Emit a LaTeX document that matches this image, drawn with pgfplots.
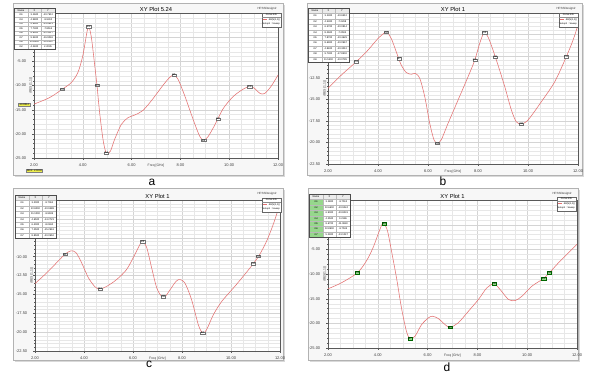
\documentclass[border=0pt]{standalone}
\usepackage{fontspec}
\setmainfont{Liberation Sans}
\usepackage{pgfplots}
\pgfplotsset{compat=1.18}
\definecolor{crv}{RGB}{228,112,112}
\definecolor{grd}{RGB}{212,212,212}
\definecolor{mgrn}{RGB}{150,215,140}
\definecolor{ylw}{RGB}{238,238,80}
\newcommand{\fs}[1]{\fontsize{#1}{#1}\selectfont}

\pgfplotsset{
 hfss/.style={
   scale only axis, anchor=south west,
   axis background/.style={fill=white},
   xmin=2, xmax=12, xtick={2,4,6,8,10,12},
   minor x tick num=3, minor y tick num=4,
   grid=both,
   major grid style={draw=grd, line width=0.3pt},
   minor grid style={draw=grd!55, line width=0.2pt},
   axis line style={draw=black!65, line width=0.4pt},
   tick style={draw=black!65, line width=0.3pt},
   major tick length=1.8pt, minor tick length=1pt,
   tick align=outside, tick pos=left,
   tick label style={font=\fs{4}, text=black!75},
   yticklabel style={xshift=-2.5pt},
   /pgf/number format/fixed,
   /pgf/number format/fixed zerofill,
   /pgf/number format/precision=2,
   /pgf/number format/assume math mode=true,
   scaled ticks=false,
   xlabel={Freq [GHz]}, ylabel={dB(S(1,1))},
   xlabel style={font=\fs{3.4}, text=black!75, at={(axis description cs:0.5,0)}, anchor=north, yshift=-5.5pt, inner sep=0pt},
   ylabel style={font=\fs{3.4}, text=black!75, at={(axis description cs:0,0.5)}, anchor=south, yshift=1.6pt, inner sep=0pt},
   every axis title shift=0pt,
   title style={font=\fs{5.8}, at={(axis description cs:0.5,1)}, anchor=south, yshift=1.2pt, inner sep=0.5pt},
 },
 hidelab/.style={yticklabel={\pgfmathparse{\tick>#1?1:0}\ifdim\pgfmathresult pt>0.5pt\relax\else\pgfmathprintnumber{\tick}\fi}},
 crvline/.style={draw=crv, line width=0.55pt, smooth, tension=0.5, mark=none},
 mk/.style={only marks, mark=*, mark size=0.01pt, mark options={draw=none,fill=none},
   nodes near coords, point meta=explicit symbolic,
   every node near coord/.style={font=\fs{2.6}, draw=black!55, fill=white, inner sep=0.35pt, line width=0.2pt, anchor=center, text=black}},
 mkg/.style={mk, every node near coord/.append style={fill=mgrn, draw=green!40!black}},
}

% marker table: x, ytop, nrows (incl header), row height, name fill, list
\newcommand{\mtab}[6]{%
 \begin{scope}[shift={(#1,#2)}]
  \fill[white] (0,0) rectangle (41,{-(#3)*(#4)});
  \fill[black!8] (0,0) rectangle (41,{-(#4)});
  \foreach \na/\xa/\ya [count=\i] in {#6} {
    \fill[#5] (0.2,{-\i*(#4)}) rectangle (13.8,{-(\i+1)*(#4)});
    \node[font=\fs{2.5}, inner sep=0] at (7,{-(\i+0.5)*(#4)}) {\na};
    \node[font=\fs{2.5}, inner sep=0] at (20.5,{-(\i+0.5)*(#4)}) {\xa};
    \node[font=\fs{2.5}, inner sep=0] at (34,{-(\i+0.5)*(#4)}) {\ya};
    \draw[gray!55, line width=0.2pt] (0,{-\i*(#4)}) -- (41,{-\i*(#4)});
  }
  \node[font=\fs{2.5}, inner sep=0] at (7,{-0.5*(#4)}) {Name};
  \node[font=\fs{2.5}, inner sep=0] at (20.5,{-0.5*(#4)}) {X};
  \node[font=\fs{2.5}, inner sep=0] at (34,{-0.5*(#4)}) {Y};
  \draw[gray!55, line width=0.2pt] (14,0) -- (14,{-(#3)*(#4)}) (27,0) -- (27,{-(#3)*(#4)});
  \draw[black!70, line width=0.4pt] (0,0) rectangle (41,{-(#3)*(#4)});
 \end{scope}}

% curve info box: right x, top y
\newcommand{\cinfo}[2]{%
 \begin{scope}[shift={(#1,#2)}]
  \draw[black!60, fill=white, line width=0.3pt] (-19,0) rectangle (0,-14);
  \node[font=\fs{2.4}, inner sep=0] at (-9.5,-2) {Curve Info};
  \draw[black!45, line width=0.2pt] (-19,-4) -- (0,-4);
  \draw[crv, line width=0.5pt] (-18.3,-6.7) -- (-14.5,-6.7);
  \node[font=\fs{2.4}, anchor=east, inner sep=0] at (-0.8,-6.7) {dB(S(1,1))};
  \node[font=\fs{2.4}, anchor=west, inner sep=0] at (-18.5,-10.6) {Setup1 : Sweep};
 \end{scope}}

\begin{document}
\begin{tikzpicture}[x=1bp,y=1bp]
\path[use as bounding box] (0,0) rectangle (591,373);
\foreach \fx/\fy/\fw in {13/198/270, 307/198/275, 13/13/270, 308/13/270}{
  \fill[black!15] (\fx+1.5,\fy-1.8) rectangle ++(\fw,172);
  \draw[black!30, fill=black!3, line width=0.3pt] (\fx,\fy) rectangle ++(\fw,172);
}

% ---------------- a ----------------
\begin{axis}[hfss, at={(34bp,215bp)}, width=244bp, height=145bp, ymin=-25, ymax=5,
  ytick={-25,-20,-15,-10,-5,0,5}, hidelab=-2.5, title={XY Plot 5.24}]
\addplot[crvline] table {
2.00 -13.85
2.64 -12.50
3.16 -10.76
3.53 -9.38
3.80 -7.29
4.00 -3.82
4.17 1.04
4.24 2.20
4.35 0.00
4.49 -5.90
4.58 -9.93
4.69 -15.60
4.83 -21.20
4.96 -23.96
5.13 -23.60
5.30 -21.20
5.58 -18.05
5.85 -16.67
6.13 -16.10
6.47 -15.14
6.88 -12.70
7.29 -9.93
7.56 -8.33
7.73 -7.85
7.90 -8.68
8.18 -12.15
8.52 -17.00
8.79 -20.50
8.95 -21.30
9.13 -20.60
9.40 -18.26
9.75 -14.80
10.16 -12.30
10.57 -10.76
10.84 -10.20
11.04 -10.60
11.25 -11.60
11.45 -11.67
11.73 -10.07
12.00 -7.85
};
\addplot[mk] table[meta=l] {
x y l
3.16 -10.76 m1
4.24 2.20 m2
4.58 -9.93 m3
4.96 -23.96 m4
7.73 -7.85 m5
8.95 -21.30 m6
9.54 -16.90 m7
10.84 -10.20 m8
};
\end{axis}

% ---------------- b ----------------
\begin{axis}[hfss, at={(328bp,209bp)}, width=250bp, height=151bp, ymin=-22.5, ymax=-5,
  ytick={-22.5,-20,-17.5,-15,-12.5,-10,-7.5,-5}, hidelab=-11, title={XY Plot 1}]
\addplot[crvline] table {
2.00 -13.73
2.53 -12.20
3.13 -10.65
3.60 -9.30
4.00 -7.96
4.33 -7.23
4.53 -7.96
4.73 -9.50
4.93 -11.04
5.13 -11.90
5.33 -12.10
5.49 -12.00
5.67 -12.58
5.87 -14.70
6.07 -17.80
6.24 -19.70
6.37 -20.08
6.53 -19.70
6.80 -17.80
7.20 -15.10
7.60 -12.40
7.87 -10.46
8.07 -8.50
8.24 -7.30
8.40 -7.77
8.60 -9.30
8.80 -11.04
9.07 -13.54
9.33 -16.20
9.53 -17.60
9.73 -17.85
10.00 -17.40
10.53 -15.30
11.07 -12.96
11.53 -10.08
11.80 -8.15
12.00 -6.40
};
\addplot[mk] table[meta=l] {
x y l
3.13 -10.65 m1
4.33 -7.23 m2
4.84 -10.30 m7
6.37 -20.08 m3
7.87 -10.46 m5
8.26 -7.25 m4
8.69 -10.10 m6
9.73 -17.85 m8
11.53 -10.08 m9
};
\end{axis}

% ---------------- c ----------------
\begin{axis}[hfss, at={(35bp,22bp)}, width=245bp, height=151bp, ymin=-22.5, ymax=-2.5,
  ytick={-22.5,-20,-17.5,-15,-12.5,-10,-7.5,-5,-2.5}, hidelab=-6, title={XY Plot 1}]
\addplot[crvline] table {
2.00 -13.57
2.48 -12.14
2.95 -10.58
3.22 -9.69
3.46 -9.24
3.67 -9.46
3.90 -10.80
4.18 -12.80
4.45 -14.00
4.65 -14.29
4.93 -13.93
5.33 -13.04
5.74 -11.70
6.08 -9.69
6.29 -8.35
6.39 -8.04
6.56 -8.80
6.76 -11.47
6.97 -14.15
7.17 -15.27
7.31 -15.30
7.51 -14.40
7.76 -13.26
7.92 -13.04
8.12 -13.50
8.39 -15.70
8.67 -19.06
8.84 -20.10
9.00 -19.70
9.28 -17.70
9.62 -15.94
10.10 -14.15
10.50 -12.60
10.91 -10.94
11.16 -9.78
11.46 -7.90
11.73 -5.67
12.00 -3.00
};
\addplot[mk] table[meta=l] {
x y l
3.22 -9.69 m1
4.65 -14.29 m4
6.39 -8.04 m5
7.24 -15.30 m6
8.84 -20.10 m7
10.91 -10.94 m2
11.11 -9.95 m3
};
\end{axis}

% ---------------- d ----------------
\begin{axis}[hfss, at={(328bp,25bp)}, width=249bp, height=148bp, ymin=-25, ymax=5,
  ytick={-25,-20,-15,-10,-5,0,5}, hidelab=-2.5, title={XY Plot 1}]
\addplot[crvline] table {
2.00 -13.00
2.54 -11.78
3.18 -9.75
3.54 -7.37
3.81 -4.66
4.01 -1.95
4.17 0.08
4.25 0.22
4.39 -1.27
4.55 -5.34
4.75 -10.76
4.95 -16.86
5.15 -21.60
5.29 -23.10
5.49 -22.63
5.76 -20.25
6.03 -18.90
6.19 -18.56
6.43 -19.03
6.70 -20.25
6.90 -20.80
7.23 -19.90
7.64 -17.54
8.04 -15.17
8.38 -12.80
8.67 -11.98
8.91 -13.14
9.25 -15.17
9.52 -15.37
9.79 -14.49
10.19 -12.46
10.66 -10.90
10.89 -9.75
11.26 -7.71
11.66 -5.68
12.00 -3.98
};
\addplot[mkg] table[meta=l] {
x y l
3.18 -9.75 m1
4.25 0.22 m4
5.29 -23.10 m7
6.90 -20.80 m3
8.67 -11.98 m5
10.66 -10.90 m2
10.89 -9.75 m6
};
\end{axis}

% marker tables
\mtab{14}{365}{9}{4.55}{white}{m1/3.1600/-10.7612, m3/4.5800/-9.9310, m4/4.9600/-23.9621, m5/7.7300/-7.8514, m6/8.9500/-21.3027, m7/9.5400/-16.9046, m8/10.8400/-10.2011, m2/4.2400/2.2035}
\mtab{308}{365}{10}{5.4}{white}{m1/3.1300/-10.6512, m2/4.3300/-7.2298, m3/6.3700/-20.0814, m4/8.2600/-7.2504, m5/7.8700/-10.4629, m6/8.6900/-10.0967, m7/4.8400/-10.3012, m8/9.7300/-17.8502, m9/11.5300/-10.0795}
\mtab{15}{178}{8}{5.4}{white}{m1/3.2000/-9.7061, m2/10.9000/-10.9388, m3/11.1000/-9.9185, m4/4.6500/-14.2723, m5/6.4000/-8.0460, m6/7.2500/-15.2961, m7/8.8500/-20.0952}
\mtab{309}{179}{8}{5.4}{mgrn}{m1/3.1800/-9.7512, m2/10.6600/-10.9024, m3/6.9000/-20.8031, m4/4.2500/0.2186, m5/8.6700/-11.9840, m6/10.8900/-9.7533, m7/5.2900/-23.1047}

% curve info boxes and design names
\cinfo{281}{360}
\cinfo{578}{360}
\cinfo{281}{175}
\cinfo{576}{176}
\node[font=\fs{3}, anchor=east, text=black!80] at (280,364) {HFSSDesign2};
\node[font=\fs{3}, anchor=east, text=black!80] at (579,364) {HFSSDesign2};
\node[font=\fs{3}, anchor=east, text=black!80] at (280,179) {HFSSDesign2};
\node[font=\fs{3}, anchor=east, text=black!80] at (575,179) {HFSSDesign2};

% yellow readouts on panel a
\node[font=\fs{2.6}, fill=ylw, draw=black!50, line width=0.2pt, inner sep=0.5pt] at (24,268.5) {-13.8512};
\node[font=\fs{2.6}, fill=ylw, draw=black!50, line width=0.2pt, inner sep=0.5pt] at (34.5,202) {MX1: 2.0000};

% panel letters
\node[font=\fs{12}, anchor=base] at (152,188) {a};
\node[font=\fs{12}, anchor=base] at (443,188) {b};
\node[font=\fs{12}, anchor=base] at (149,5.5) {c};
\node[font=\fs{12}, anchor=base] at (447,1.5) {d};
\end{tikzpicture}
\end{document}
